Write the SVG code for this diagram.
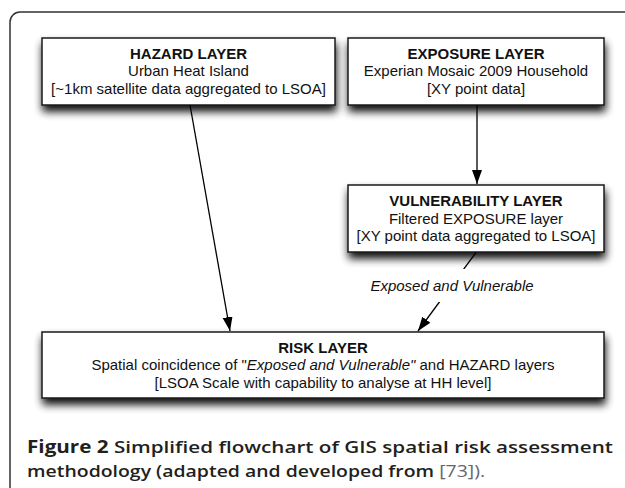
<svg xmlns="http://www.w3.org/2000/svg" width="625" height="488" viewBox="0 0 625 488">
  <style>
    .box { fill: #ffffff; stroke: #1a1a1a; stroke-width: 1.5; }
    .t { font-family: "Liberation Sans", Arial, sans-serif; font-size: 15px; fill: #111; text-anchor: middle; }
    .b { font-weight: bold; }
    .conn { stroke: #000; stroke-width: 1.3; fill: none; marker-end: url(#arrow); }
    .cap { font-family: "Open Sans", "Liberation Sans", sans-serif; font-size: 17px; fill: #231f20; }
  </style>
  <defs>
    <filter id="shadow" x="-10%" y="-30%" width="120%" height="180%">
      <feGaussianBlur in="SourceAlpha" stdDeviation="4"/>
      <feOffset dx="1" dy="6" result="b"/>
      <feComponentTransfer><feFuncA type="linear" slope="0.95"/></feComponentTransfer>
      <feMerge><feMergeNode/><feMergeNode in="SourceGraphic"/></feMerge>
    </filter>
    <marker id="arrow" markerUnits="userSpaceOnUse" markerWidth="15" markerHeight="11" refX="14" refY="5" orient="auto">
      <path d="M0,0 L14,5 L0,10 z" fill="#000"/>
    </marker>
  </defs>
  <rect width="625" height="488" fill="#ffffff"/>
  <path d="M10,495 L10,22 A10,10 0 0 1 20,12 L640,12" fill="none" stroke="#333" stroke-width="1.5"/>

  <g id="hazard">
    <rect class="box" x="42" y="38" width="293" height="67" filter="url(#shadow)"/>
    <text class="t b" x="188.5" y="58.5">HAZARD LAYER</text>
    <text class="t" x="188.5" y="76">Urban Heat Island</text>
    <text class="t" x="188.5" y="93.5">[~1km satellite data aggregated to LSOA]</text>
  </g>
  <g id="exposure">
    <rect class="box" x="348" y="38" width="256" height="67" filter="url(#shadow)"/>
    <text class="t b" x="476" y="58.5">EXPOSURE LAYER</text>
    <text class="t" x="476" y="76">Experian Mosaic 2009 Household</text>
    <text class="t" x="476" y="93.5">[XY point data]</text>
  </g>
  <g id="vulnerability">
    <rect class="box" x="348" y="185" width="256" height="67" filter="url(#shadow)"/>
    <text class="t b" x="476" y="206">VULNERABILITY LAYER</text>
    <text class="t" x="476" y="223.5">Filtered EXPOSURE layer</text>
    <text class="t" x="476" y="241">[XY point data aggregated to LSOA]</text>
  </g>
  <g id="risk">
    <rect class="box" x="42" y="332" width="562" height="66" filter="url(#shadow)"/>
    <text class="t b" x="323" y="352.5">RISK LAYER</text>
    <text class="t" x="323" y="370">Spatial coincidence of "<tspan font-style="italic">Exposed and Vulnerable"</tspan> and HAZARD layers</text>
    <text class="t" x="323" y="387.5">[LSOA Scale with capability to analyse at HH level]</text>
  </g>

  <g id="connectors">
    <line class="conn" x1="190" y1="105" x2="230" y2="331"/>
    <line class="conn" x1="477" y1="105" x2="477" y2="184"/>
    <line class="conn" x1="476" y1="252.5" x2="418" y2="331"/>
    <rect x="362" y="269" width="178" height="33" fill="#ffffff"/>
    <text class="t" x="452" y="291" font-style="italic">Exposed and Vulnerable</text>
  </g>

  <g id="caption">
    <text class="cap" x="27" y="453" textLength="586" lengthAdjust="spacingAndGlyphs"><tspan font-weight="bold">Figure 2</tspan><tspan font-weight="600"> Simplified flowchart of GIS spatial risk assessment</tspan></text>
    <text class="cap" x="27" y="477" textLength="458" lengthAdjust="spacingAndGlyphs"><tspan font-weight="600">methodology (adapted and developed from </tspan><tspan fill="#666">[73]).</tspan></text>
  </g>
</svg>
